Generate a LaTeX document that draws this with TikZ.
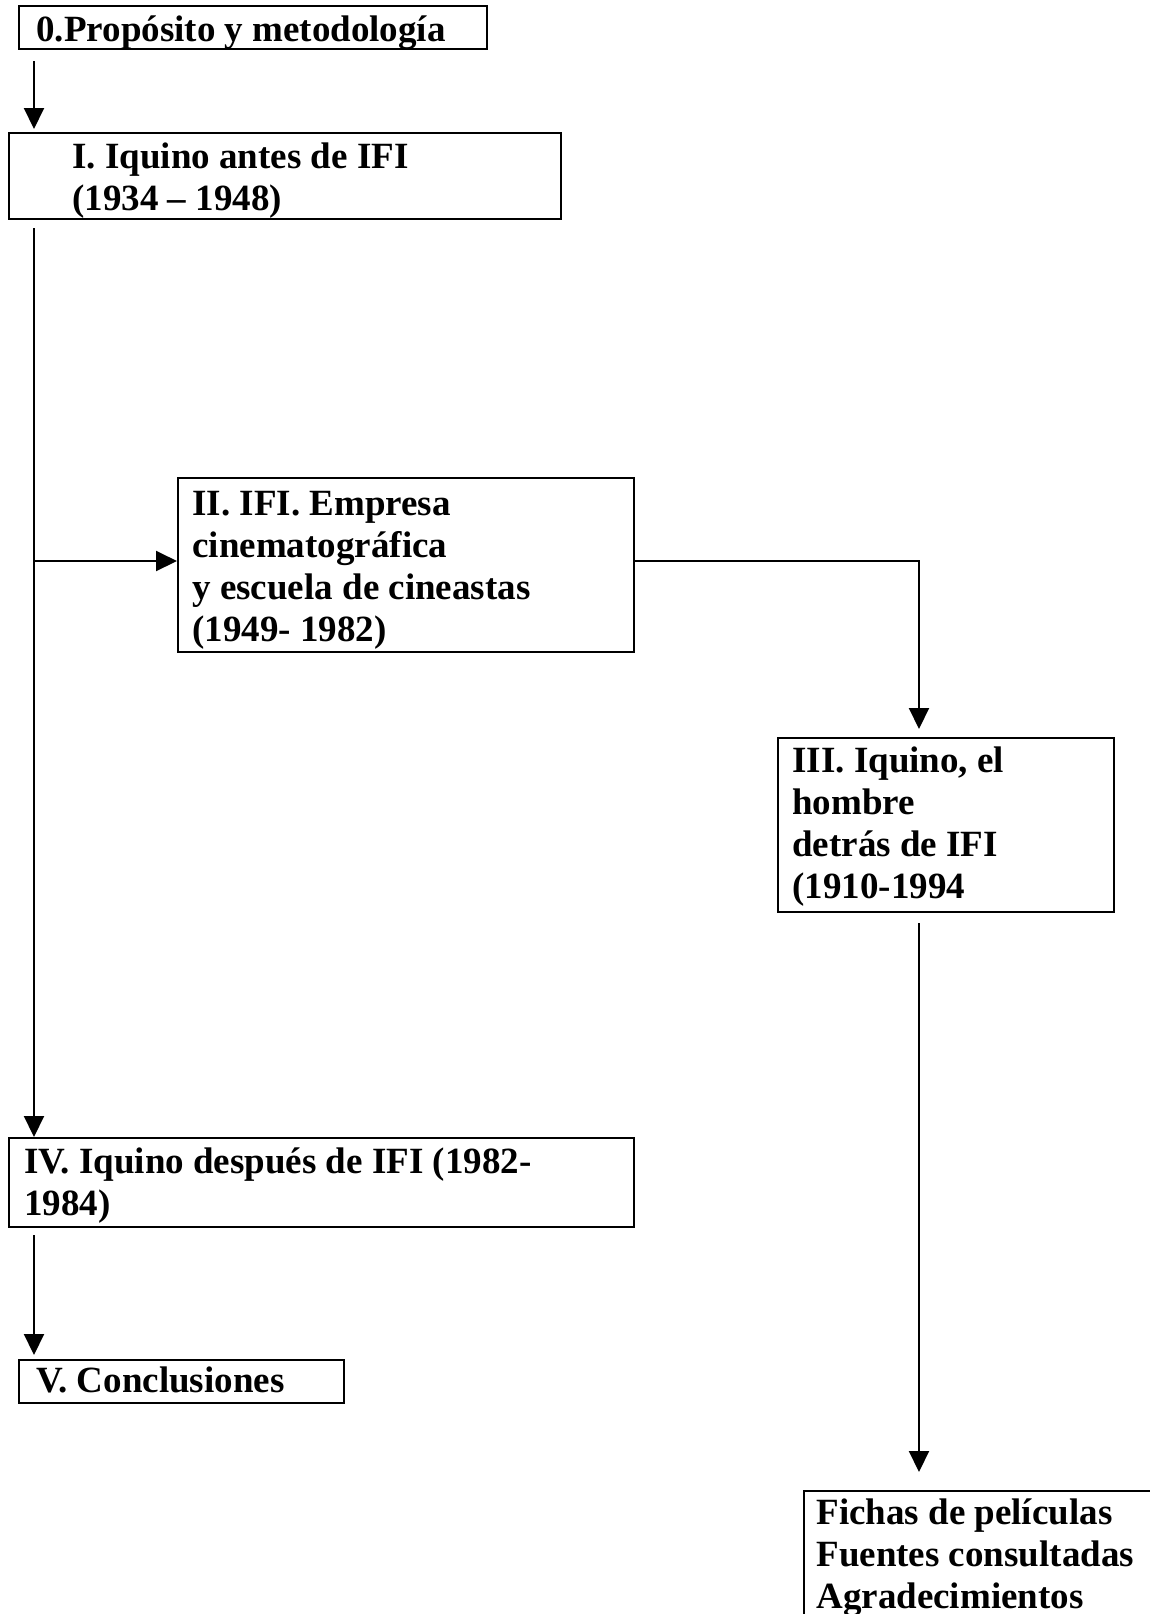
\documentclass[tikz,border=0pt]{standalone}
\usepackage{fontspec}
\setmainfont{Liberation Serif}
\usetikzlibrary{arrows.meta,calc}
\begin{document}
\begin{tikzpicture}[x=0.5pt,y=-0.5pt,
  box/.style={draw, line width=1pt, inner sep=0pt, anchor=north west},
  lbl/.style={anchor=base west, inner sep=0pt, font=\fontsize{18.5}{21}\selectfont\bfseries},
  arr/.style={line width=1pt, -{Triangle[width=10pt,length=10.5pt]}}]
\useasboundingbox (0,0) rectangle (1150,1614);
\fill[white] (0,0) rectangle (1150,1614);
% boxes
\node[box, minimum width=234.25pt, minimum height=21.5pt] (b0) at (17.5,5) {};
\node[box, minimum width=276pt, minimum height=43pt] (b1) at (8,132) {};
\node[box, minimum width=228pt, minimum height=87pt] (b2) at (177,477) {};
\node[box, minimum width=168pt, minimum height=87pt] (b3) at (777,737) {};
\node[box, minimum width=312.5pt, minimum height=44.5pt] (b4) at (8,1137) {};
\node[box, minimum width=162.75pt, minimum height=21.5pt] (b5) at (17.5,1359) {};
\node[box, minimum width=183.5pt, minimum height=70pt] (b6) at (803,1490) {};
% texts
\node[lbl] (t0) at ($(b0.north west)+(18.5,36)$) {\begin{tabular}[t]{@{}l@{}}0.Propósito y metodología\end{tabular}};
\node[lbl] (t1) at ($(b1.north west)+(64,36)$) {\begin{tabular}[t]{@{}l@{}}I. Iquino antes de IFI\\(1934 – 1948)\end{tabular}};
\node[lbl] (t2) at ($(b2.north west)+(15,38)$) {\begin{tabular}[t]{@{}l@{}}II. IFI. Empresa\\cinematográfica\\y escuela de cineastas\\(1949- 1982)\end{tabular}};
\node[lbl] (t3) at ($(b3.north west)+(15,35)$) {\begin{tabular}[t]{@{}l@{}}III. Iquino, el\\hombre\\detrás de IFI\\(1910-1994\end{tabular}};
\node[lbl] (t4) at ($(b4.north west)+(16,36)$) {\begin{tabular}[t]{@{}l@{}}IV. Iquino después de IFI (1982-\\1984)\end{tabular}};
\node[lbl] (t5) at ($(b5.north west)+(18.5,33)$) {\begin{tabular}[t]{@{}l@{}}V. Conclusiones\end{tabular}};
\node[lbl] (t6) at ($(b6.north west)+(13,34)$) {\begin{tabular}[t]{@{}l@{}}Fichas de películas\\Fuentes consultadas\\Agradecimientos\end{tabular}};
% connectors
\coordinate (T) at (34,0);
\coordinate (R) at (919,0);
\coordinate (J) at (34,561);
\draw[arr, shorten <=5.5pt, shorten >=1.5pt] (b0.south -| T) -- (b1.north -| T);
\draw[arr, shorten <=4pt] (b1.south -| T) -- (b4.north -| T);
\draw[arr] (J) -- (J -| b2.west);
\draw[arr, shorten >=4pt] (J -| b2.east) -| (b3.north -| R);
\draw[arr, shorten <=5pt, shorten >=9pt] (b3.south -| R) -- (b6.north -| R);
\draw[arr, shorten <=3.5pt, shorten >=2pt] (b4.south -| T) -- (b5.north -| T);
\end{tikzpicture}
\end{document}
